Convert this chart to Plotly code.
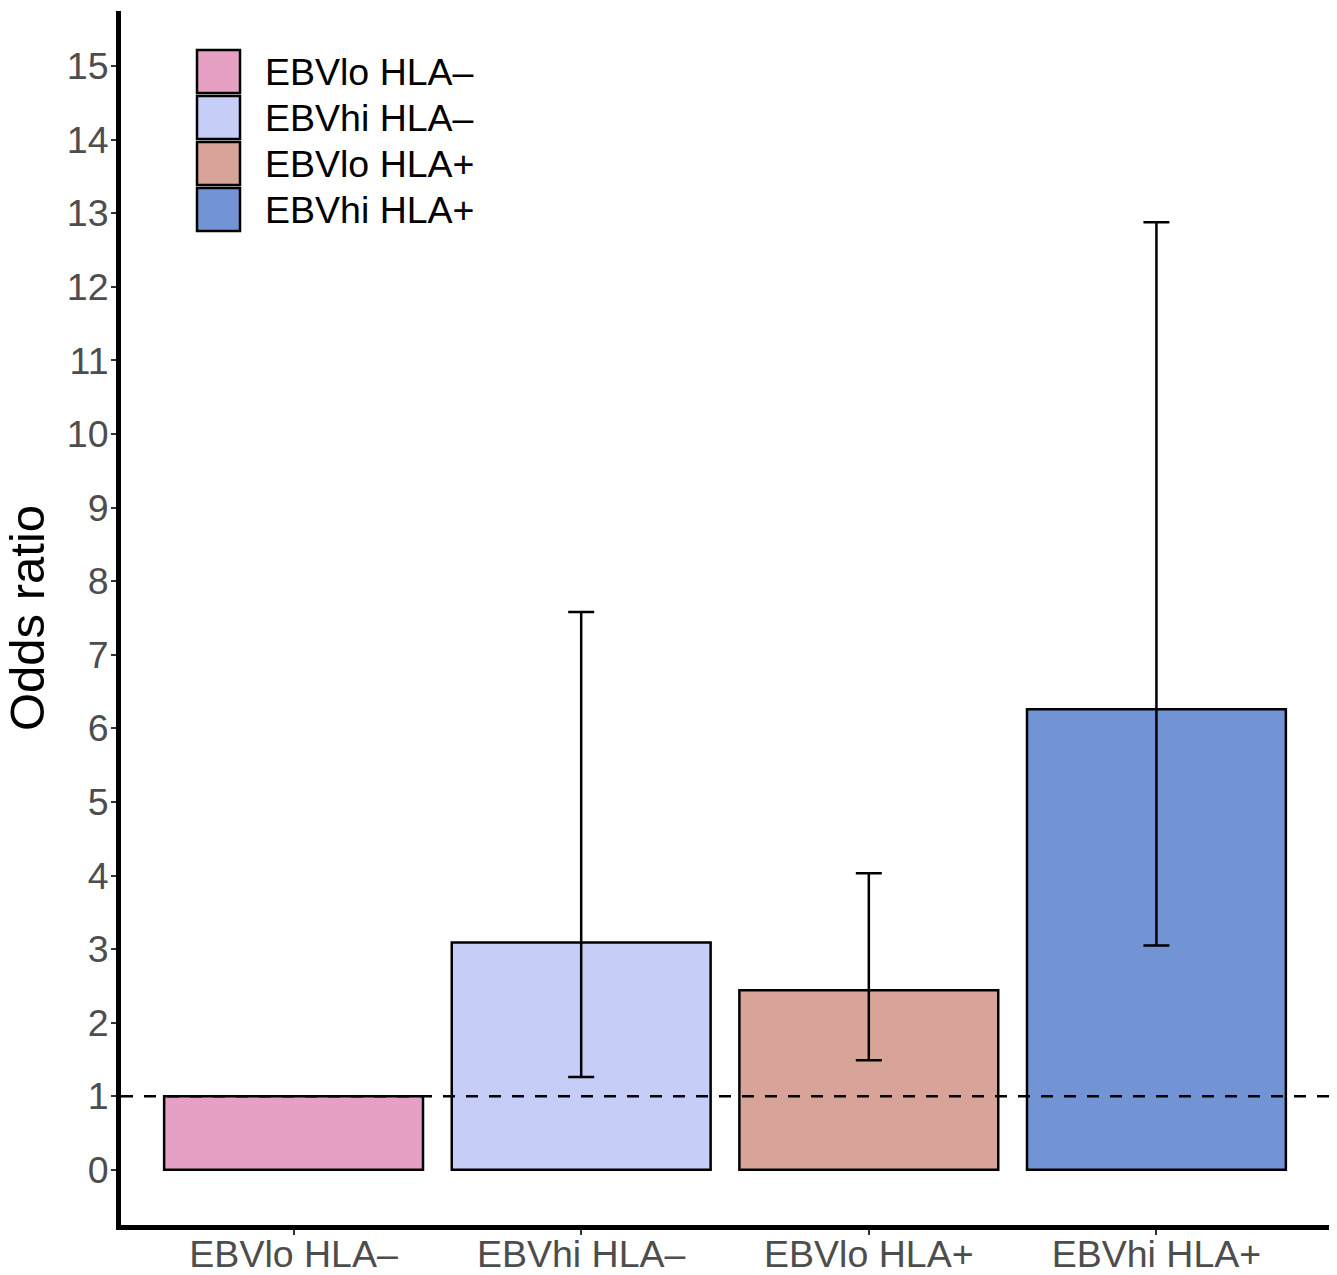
import plotly.graph_objects as go

categories = ["EBVlo HLA–", "EBVhi HLA–", "EBVlo HLA+", "EBVhi HLA+"]
odds_ratio = [1.0, 3.09, 2.44, 6.26]
ci_lower = [None, 1.26, 1.49, 3.05]
ci_upper = [None, 7.58, 4.03, 12.88]
colors = ["#E6A0C4", "#C6CDF7", "#D8A499", "#7294D4"]
y_ticks = list(range(0, 16))

W, H = 1337, 1275
ML, MR, MT, MB = 121, 8, 11, 50
FONT = "Liberation Sans, Arial, sans-serif"

err_plus = [(u - v) if u is not None else 0 for u, v in zip(ci_upper, odds_ratio)]
err_minus = [(v - l) if l is not None else 0 for l, v in zip(ci_lower, odds_ratio)]
err_visible = [u is not None for u in ci_upper]

fig = go.Figure()
for i, cat in enumerate(categories):
    ey = dict(type="data", symmetric=False, array=[err_plus[i]], arrayminus=[err_minus[i]],
              color="black", thickness=2.5, width=13, visible=err_visible[i])
    fig.add_trace(go.Bar(
        x=[cat], y=[odds_ratio[i]], name=cat,
        marker=dict(color=colors[i], line=dict(color="black", width=2.5)),
        width=0.9, error_y=ey, showlegend=False,
    ))

fig.add_hline(y=1, line=dict(color="black", width=2.5, dash="12px,11px"), layer="above")

# manual legend (key boxes + labels) in paper coordinates
pw = W - ML - MR
ph = H - MT - MB
def px_x(p):
    return (p - ML) / pw
def px_y(p):
    return 1 - (p - MT) / ph

for i, cat in enumerate(categories):
    top = 50 + 46 * i
    fig.add_shape(type="rect", xref="paper", yref="paper",
                  x0=px_x(197), x1=px_x(240), y0=px_y(top + 43), y1=px_y(top),
                  fillcolor=colors[i], line=dict(color="black", width=2.5), layer="above")
    fig.add_annotation(xref="paper", yref="paper", x=px_x(263), y=px_y(top + 22),
                       text=cat, showarrow=False, xanchor="left", yanchor="middle",
                       font=dict(family=FONT, size=37.5, color="black"))

fig.update_layout(
    width=W, height=H,
    margin=dict(l=ML, r=MR, t=MT, b=MB, pad=0),
    plot_bgcolor="white", paper_bgcolor="white",
    font=dict(family=FONT),
    bargap=0.1,
    xaxis=dict(
        type="category", categoryorder="array", categoryarray=categories,
        range=[-0.6, 3.6], showgrid=False, zeroline=False, automargin=False,
        showline=True, linecolor="black", linewidth=5,
        ticks="outside", ticklen=5, tickwidth=2, tickcolor="#333333",
        tickfont=dict(family=FONT, size=37.5, color="#4D4D4D"),
        ticklabelstandoff=-13,
    ),
    yaxis=dict(
        range=[-0.75, 15.75], tickvals=y_ticks, showgrid=False, zeroline=False, automargin=False,
        showline=True, linecolor="black", linewidth=5,
        ticks="outside", ticklen=5, tickwidth=2, tickcolor="#333333",
        tickfont=dict(family=FONT, size=37.5, color="#4D4D4D"),
        ticklabelstandoff=-5,
        title=dict(text="Odds ratio", font=dict(family=FONT, size=49, color="black"), standoff=8),
    ),
)

fig.write_html("out.html", config={"displayModeBar": False},
               post_script="document.body.style.margin='0';document.body.style.overflow='hidden';")
